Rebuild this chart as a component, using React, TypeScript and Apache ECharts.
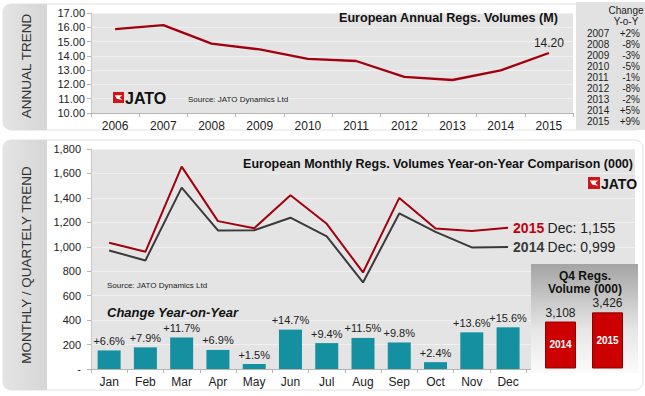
import React, { useEffect, useRef } from "react";
import * as echarts from "echarts";

const years = ["2006", "2007", "2008", "2009", "2010", "2011", "2012", "2013", "2014", "2015"];
const annualVolumes = [15.87, 16.15, 14.86, 14.45, 13.79, 13.64, 12.53, 12.31, 12.98, 14.2];
const yoyYears = ["2007", "2008", "2009", "2010", "2011", "2012", "2013", "2014", "2015"];
const yoyChanges = ["+2%", "-8%", "-3%", "-5%", "-1%", "-8%", "-2%", "+5%", "+9%"];

const months = ["Jan", "Feb", "Mar", "Apr", "May", "Jun", "Jul", "Aug", "Sep", "Oct", "Nov", "Dec"];
const vol2015 = [1033, 959, 1656, 1210, 1152, 1421, 1188, 790, 1400, 1149, 1130, 1155];
const vol2014 = [970, 888, 1484, 1134, 1135, 1238, 1086, 708, 1273, 1122, 995, 999];
const changeBars = [152, 177, 258, 156, 40, 322, 212, 254, 217, 56, 300, 341];
const changeLabels = ["+6.6%", "+7.9%", "+11.7%", "+6.9%", "+1.5%", "+14.7%", "+9.4%", "+11.5%", "+9.8%", "+2.4%", "+13.6%", "+15.6%"];

const q4Years = ["2014", "2015"];
const q4Volumes = [3108, 3426];

const FONT = "'Liberation Sans', Arial, sans-serif";
const RED = "#a3000e";
const DARK = "#3a3a3a";
const TEAL = "#1590a0";

const fmt4 = (v: number) => {
  const s = String(Math.round(v)).padStart(4, "0");
  return s.slice(0, s.length - 3) + "," + s.slice(-3);
};

function logo(x: number, y: number, sq: number, fs: number, z = 10) {
  return {
    type: "group",
    x,
    y,
    z,
    children: [
      { type: "rect", shape: { x: 0, y: 0, width: sq, height: sq }, style: { fill: "#d0141b" }, z },
      {
        type: "polygon",
        shape: {
          points: [
            [sq * 0.15, sq * 0.3],
            [sq * 0.85, sq * 0.3],
            [sq * 0.6, sq * 0.5],
            [sq * 0.85, sq * 0.72],
            [sq * 0.35, sq * 0.62],
          ],
        },
        style: { fill: "#fff" },
        z: z + 1,
      },
      {
        type: "text",
        x: sq + 1,
        y: sq / 2 + 0.5,
        z,
        style: { text: "JATO", font: `bold ${fs}px ${FONT}`, fill: "#111", verticalAlign: "middle", align: "left" },
      },
    ],
  };
}

export default function App() {
  const ref = useRef<HTMLDivElement>(null);
  useEffect(() => {
    if (!ref.current) return;
    const chart = echarts.init(ref.current, null, { renderer: "svg" });

    const tableChildren: any[] = [];
    yoyYears.forEach((yr, i) => {
      const yy = 33 + i * 11.05;
      tableChildren.push({
        type: "text",
        x: 587,
        y: yy,
        z: 10,
        style: { text: yr, font: `10px ${FONT}`, fill: "#222", verticalAlign: "middle", align: "left" },
      });
      tableChildren.push({
        type: "text",
        x: 640,
        y: yy,
        z: 10,
        style: { text: yoyChanges[i], font: `10px ${FONT}`, fill: "#222", verticalAlign: "middle", align: "right" },
      });
    });

    const tabFill = new echarts.graphic.LinearGradient(0, 0, 1, 0, [
      { offset: 0, color: "#e4e4e4" },
      { offset: 1, color: "#d6d6d6" },
    ]);

    const option: any = {
      animation: false,
      backgroundColor: "#fff",
      textStyle: { fontFamily: FONT },
      grid: [
        { left: 91, top: 13, width: 482, height: 100, show: true, backgroundColor: "#e4e4e4", borderWidth: 0 },
        { left: 91, top: 149, width: 544, height: 220, show: true, backgroundColor: "#e4e4e4", borderWidth: 0 },
        { left: 537, top: 264, width: 94, height: 104, show: false },
      ],
      xAxis: [
        {
          gridIndex: 0,
          type: "category",
          data: years,
          boundaryGap: true,
          axisLine: { lineStyle: { color: "#b5b5b5" } },
          axisTick: { show: true, length: 4, lineStyle: { color: "#b5b5b5" } },
          axisLabel: { color: "#222", fontSize: 12, margin: 7, fontFamily: FONT },
        },
        {
          gridIndex: 1,
          type: "category",
          data: months,
          max: 14,
          boundaryGap: true,
          axisLine: { lineStyle: { color: "#b5b5b5" } },
          axisTick: { show: true, length: 4, lineStyle: { color: "#b5b5b5" } },
          axisLabel: { color: "#222", fontSize: 12, margin: 7, fontFamily: FONT },
        },
        {
          gridIndex: 2,
          type: "category",
          data: q4Years,
          axisLine: { show: false },
          axisTick: { show: false },
          axisLabel: { show: false },
        },
      ],
      yAxis: [
        {
          gridIndex: 0,
          type: "value",
          min: 10,
          max: 17,
          interval: 1,
          axisLine: { show: true, lineStyle: { color: "#c8c8c8" } },
          axisTick: { show: true, length: 4, lineStyle: { color: "#b5b5b5" } },
          axisLabel: { color: "#222", fontSize: 11, margin: 6, formatter: (v: number) => v.toFixed(2), fontFamily: FONT },
          splitLine: { lineStyle: { color: "#f0f0f0" } },
        },
        {
          gridIndex: 1,
          type: "value",
          min: 0,
          max: 1800,
          interval: 200,
          axisLine: { show: true, lineStyle: { color: "#c8c8c8" } },
          axisTick: { show: true, length: 4, lineStyle: { color: "#b5b5b5" } },
          axisLabel: {
            color: "#222",
            fontSize: 11,
            margin: 10,
            fontFamily: FONT,
            formatter: (v: number) => (v === 0 ? "-" : v.toLocaleString("en-US")),
          },
          splitLine: { lineStyle: { color: "#f0f0f0" } },
        },
        {
          gridIndex: 2,
          type: "value",
          min: 1500,
          max: 5100,
          show: false,
          splitLine: { show: false },
        },
      ],
      series: [
        {
          type: "line",
          xAxisIndex: 0,
          yAxisIndex: 0,
          data: annualVolumes.map((v, i) =>
            i === annualVolumes.length - 1
              ? {
                  value: v,
                  label: {
                    show: true,
                    position: "top",
                    distance: 4,
                    formatter: (p: any) => Number(p.value).toFixed(2),
                    color: "#222",
                    fontSize: 12,
                    fontFamily: FONT,
                  },
                }
              : v
          ),
          showSymbol: true,
          symbol: "circle",
          symbolSize: 0.1,
          lineStyle: { color: RED, width: 2.3 },
          itemStyle: { color: RED },
          z: 5,
        },
        {
          type: "bar",
          xAxisIndex: 1,
          yAxisIndex: 1,
          data: changeBars,
          barWidth: 23,
          itemStyle: { color: TEAL },
          label: {
            show: true,
            position: "top",
            distance: 4,
            color: "#222",
            fontSize: 11,
            fontFamily: FONT,
            formatter: (p: any) => changeLabels[p.dataIndex],
          },
          z: 3,
        },
        {
          type: "line",
          name: "2014",
          xAxisIndex: 1,
          yAxisIndex: 1,
          data: vol2014,
          showSymbol: false,
          symbol: "none",
          lineStyle: { color: DARK, width: 2 },
          itemStyle: { color: DARK },
          endLabel: {
            show: true,
            distance: 5,
            formatter: (p: any) => `{y|${p.seriesName}} {t|${months[months.length - 1]}: ${fmt4(p.value)}}`,
            rich: {
              y: { fontSize: 14, fontWeight: "bold", color: DARK, fontFamily: FONT },
              t: { fontSize: 14, color: "#222", fontFamily: FONT },
            },
          },
          z: 4,
        },
        {
          type: "line",
          name: "2015",
          xAxisIndex: 1,
          yAxisIndex: 1,
          data: vol2015,
          showSymbol: false,
          symbol: "none",
          lineStyle: { color: RED, width: 2 },
          itemStyle: { color: RED },
          endLabel: {
            show: true,
            distance: 5,
            formatter: (p: any) => `{y|${p.seriesName}} {t|${months[months.length - 1]}: ${fmt4(p.value)}}`,
            rich: {
              y: { fontSize: 14, fontWeight: "bold", color: "#c00010", fontFamily: FONT },
              t: { fontSize: 14, color: "#222", fontFamily: FONT },
            },
          },
          z: 5,
        },
        {
          type: "bar",
          xAxisIndex: 2,
          yAxisIndex: 2,
          data: q4Volumes,
          barWidth: 31,
          itemStyle: { color: "#cc0000", borderColor: "#8e0000", borderWidth: 1 },
          label: {
            show: true,
            position: "top",
            distance: 3,
            color: "#222",
            fontSize: 12,
            fontFamily: FONT,
            formatter: (p: any) => Number(p.value).toLocaleString("en-US"),
          },
          z: 6,
        },
        {
          type: "bar",
          xAxisIndex: 2,
          yAxisIndex: 2,
          data: q4Volumes,
          barWidth: 31,
          barGap: "-100%",
          itemStyle: { color: "rgba(0,0,0,0)" },
          label: {
            show: true,
            position: "inside",
            color: "#fff",
            fontSize: 10,
            fontWeight: "bold",
            fontFamily: FONT,
            formatter: (p: any) => p.name,
          },
          z: 7,
        },
      ],
      graphic: [
        { type: "rect", z: -20, shape: { x: 3, y: 4, width: 640, height: 126, r: 8 }, style: { fill: "#fff", stroke: "#e2e2e2", lineWidth: 1 } },
        { type: "rect", z: -19, shape: { x: 3, y: 4, width: 44, height: 126, r: [8, 0, 0, 8] }, style: { fill: tabFill } },
        {
          type: "text",
          x: 26,
          y: 66,
          rotation: Math.PI / 2,
          z: 10,
          style: { text: "ANNUAL TREND", font: `13.5px ${FONT}`, fill: "#333", align: "center", verticalAlign: "middle" },
        },
        { type: "rect", z: -20, shape: { x: 3, y: 140, width: 640, height: 250, r: 8 }, style: { fill: "#fff", stroke: "#e2e2e2", lineWidth: 1 } },
        { type: "rect", z: -19, shape: { x: 3, y: 140, width: 44, height: 250, r: [8, 0, 0, 8] }, style: { fill: tabFill } },
        {
          type: "text",
          x: 26,
          y: 265,
          rotation: Math.PI / 2,
          z: 10,
          style: { text: "MONTHLY / QUARTELY TREND", font: `13.5px ${FONT}`, fill: "#333", align: "center", verticalAlign: "middle" },
        },
        { type: "rect", z: -15, shape: { x: 576, y: 2, width: 69, height: 128 }, style: { fill: "#e2e2e2" } },
        {
          type: "text",
          x: 626,
          y: 10,
          z: 10,
          style: { text: "Change", font: `10px ${FONT}`, fill: "#222", align: "center", verticalAlign: "middle" },
        },
        {
          type: "text",
          x: 626,
          y: 21,
          z: 10,
          style: { text: "Y-o-Y", font: `10px ${FONT}`, fill: "#222", align: "center", verticalAlign: "middle" },
        },
        ...tableChildren,
        {
          type: "text",
          x: 558,
          y: 18,
          z: 10,
          style: { text: "European Annual Regs. Volumes (M)", font: `bold 12.6px ${FONT}`, fill: "#111", align: "right", verticalAlign: "middle" },
        },
        logo(113, 92, 11, 16),
        {
          type: "text",
          x: 188,
          y: 99,
          z: 10,
          style: { text: "Source: JATO Dynamics Ltd", font: `8px ${FONT}`, fill: "#222", align: "left", verticalAlign: "middle" },
        },
        {
          type: "text",
          x: 633,
          y: 164,
          z: 10,
          style: {
            text: "European Monthly Regs. Volumes Year-on-Year Comparison (000)",
            font: `bold 12.5px ${FONT}`,
            fill: "#111",
            align: "right",
            verticalAlign: "middle",
          },
        },
        logo(588, 177, 12, 14),
        {
          type: "text",
          x: 107,
          y: 285,
          z: 10,
          style: { text: "Source: JATO Dynamics Ltd", font: `8px ${FONT}`, fill: "#222", align: "left", verticalAlign: "middle" },
        },
        {
          type: "text",
          x: 107,
          y: 312,
          z: 10,
          style: { text: "Change Year-on-Year", font: `italic bold 13px ${FONT}`, fill: "#111", align: "left", verticalAlign: "middle" },
        },
        {
          type: "rect",
          z: 1,
          shape: { x: 531, y: 264, width: 107, height: 109 },
          style: {
            fill: new echarts.graphic.LinearGradient(0, 0, 0, 1, [
              { offset: 0, color: "#a4a4a4" },
              { offset: 0.6, color: "#e6e6e6" },
              { offset: 1, color: "#fbfbfb" },
            ]),
          },
        },
        {
          type: "text",
          x: 585,
          y: 282,
          z: 10,
          style: {
            text: "Q4 Regs.\nVolume (000)",
            font: `bold 12px ${FONT}`,
            lineHeight: 13,
            fill: "#111",
            align: "center",
            verticalAlign: "middle",
          },
        },
      ],
    };
    chart.setOption(option);
    return () => chart.dispose();
  }, []);
  return <div ref={ref} style={{ position: "fixed", left: 0, top: 0, width: 645, height: 396 }} />;
}
